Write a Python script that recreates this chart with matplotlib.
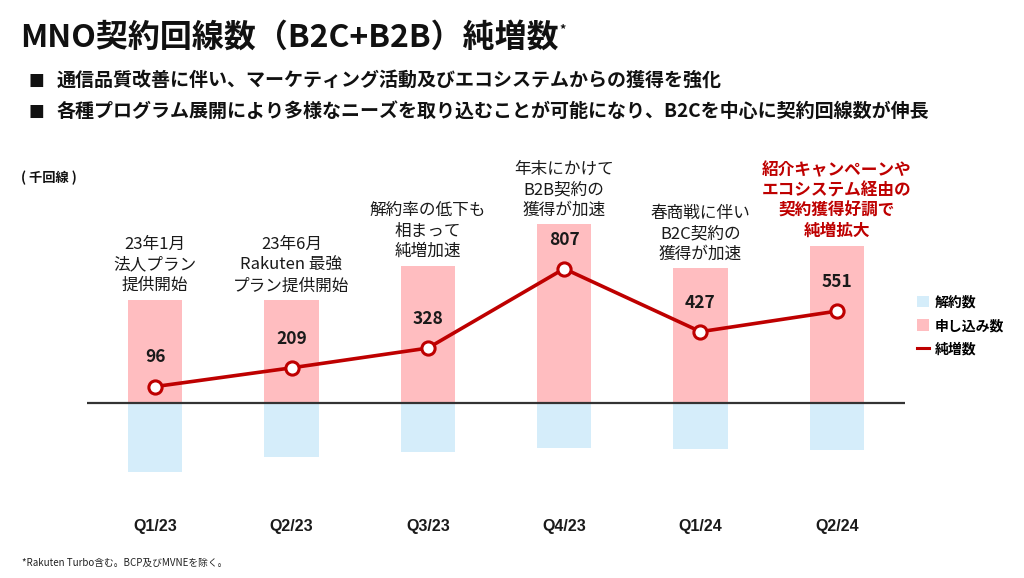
import matplotlib
matplotlib.use("Agg")
import matplotlib.pyplot as plt
from matplotlib.patches import Patch
from matplotlib.lines import Line2D

plt.rcParams['font.family'] = ['Noto Sans CJK JP', 'DejaVu Sans']

# ---- data ----
quarters = ["Q1/23", "Q2/23", "Q3/23", "Q4/23", "Q1/24", "Q2/24"]
net_adds = [96, 209, 328, 807, 427, 551]            # 純増数 (千回線)
applications = [621, 619, 825, 1075, 809, 945]      # 申し込み数 (estimated, not labelled)
churn = [419, 327, 301, 277, 281, 285]              # 解約数 (estimated, not labelled)
notes = [
    "23年1月\n法人プラン\n提供開始",
    "23年6月\nRakuten 最強\nプラン提供開始",
    "解約率の低下も\n相まって\n純増加速",
    "年末にかけて\nB2B契約の\n獲得が加速",
    "春商戦に伴い\nB2C契約の\n獲得が加速",
    "紹介キャンペーンや\nエコシステム経由の\n契約獲得好調で\n純増拡大",
]
title = "MNO契約回線数（B2C+B2B）純増数"
bullets = [
    "通信品質改善に伴い、マーケティング活動及びエコシステムからの獲得を強化",
    "各種プログラム展開により多様なニーズを取り込むことが可能になり、B2Cを中心に契約回線数が伸長",
]
unit = "( 千回線 )"
footnote = "*Rakuten Turbo含む。BCP及びMVNEを除く。"
legend_labels = ["解約数", "申し込み数", "純増数"]

PINK = "#FFBDC0"
BLUE = "#D5EDFA"
RED = "#BE0000"
TXT = "#1a1a1a"

W, H = 1024, 578
fig = plt.figure(figsize=(W / 100, H / 100), dpi=100)
fig.patch.set_facecolor("white")

# axes placement (pixel based)
ax_left, ax_right = 87, 905
ymin, ymax = -500, 1500
px_per_unit = 1 / 6.03
base_px = 402.5
top_px = base_px - ymax * px_per_unit
bot_px = base_px - ymin * px_per_unit
ax = fig.add_axes([ax_left / W, 1 - bot_px / H, (ax_right - ax_left) / W, (bot_px - top_px) / H])
ax.set_xlim(-0.5, len(quarters) - 0.5)
ax.set_ylim(ymin, ymax)
for s in ax.spines.values():
    s.set_visible(False)
ax.set_yticks([])

x = list(range(len(quarters)))
bw = 0.40
ax.bar(x, applications, width=bw, color=PINK, zorder=1)
ax.bar(x, [-c for c in churn], width=bw, color=BLUE, zorder=1)
ax.axhline(0, color="#333333", lw=1.6, zorder=2)
ax.plot(x, net_adds, color=RED, lw=2.6, zorder=3,
        marker="o", markersize=9.5, markerfacecolor="white",
        markeredgecolor=RED, markeredgewidth=2.2)

for i, v in enumerate(net_adds):
    ax.annotate(f"{v}", (i, v), xytext=(0, 21), textcoords="offset points",
                ha="center", va="center", fontsize=12.5, fontweight="bold",
                color=TXT, zorder=4)

for i, n in enumerate(notes):
    last = i == len(notes) - 1
    ax.annotate(n, (i, applications[i]), xytext=(0, 4), textcoords="offset points",
                ha="center", va="bottom", multialignment="center",
                fontsize=12,
                fontweight="bold" if last else "normal",
                color=RED if last else TXT,
                linespacing=1.16 if last else 1.27, zorder=4)

ax.set_xticks(x)
ax.set_xticklabels(quarters, fontsize=11.5, fontweight="bold",
                   family=["Liberation Sans Narrow", "Liberation Sans", "DejaVu Sans"],
                   color=TXT)
ax.tick_params(axis="x", length=0, pad=(525 - bot_px) * 0.72 - 4)

# ---- texts ----
t = fig.text(20 / W, 1 - 38 / H, title, fontsize=23, fontweight="bold",
             va="center", ha="left", color="#111111")
fig.canvas.draw()
bb = t.get_window_extent()
fig.text(bb.x1 / W + 0.001, 1 - 30 / H, "*", fontsize=9, fontweight="bold",
         va="center", ha="left", color="#111111")

for j, (b, yy) in enumerate(zip(bullets, [80, 111])):
    fig.text(28 / W, 1 - yy / H, "■", fontsize=12, va="center", ha="left", color="#111111",
             family=["DejaVu Sans"])
    fig.text(57 / W, 1 - yy / H, b, fontsize=13.7, fontweight="bold",
             va="center", ha="left", color="#111111")

fig.text(21 / W, 1 - 178 / H, unit, fontsize=9.5, fontweight="bold",
         va="center", ha="left", color="#111111")
fig.text(22 / W, 1 - 563 / H, footnote, fontsize=7, va="center", ha="left", color="#222222",
         family=["Noto Sans CJK JP", "DejaVu Sans"])

handles = [Patch(facecolor=BLUE, edgecolor="none"),
           Patch(facecolor=PINK, edgecolor="none"),
           Line2D([0], [0], color=RED, lw=2.2)]
fig.legend(handles, legend_labels, loc="center left",
           bbox_to_anchor=(911 / W, 1 - 326 / H), frameon=False,
           prop={"weight": "bold", "size": 10},
           handlelength=0.9, handleheight=0.9, handletextpad=0.4,
           labelspacing=0.7, borderaxespad=0)

fig.savefig("out.png", dpi=100, facecolor="white")
